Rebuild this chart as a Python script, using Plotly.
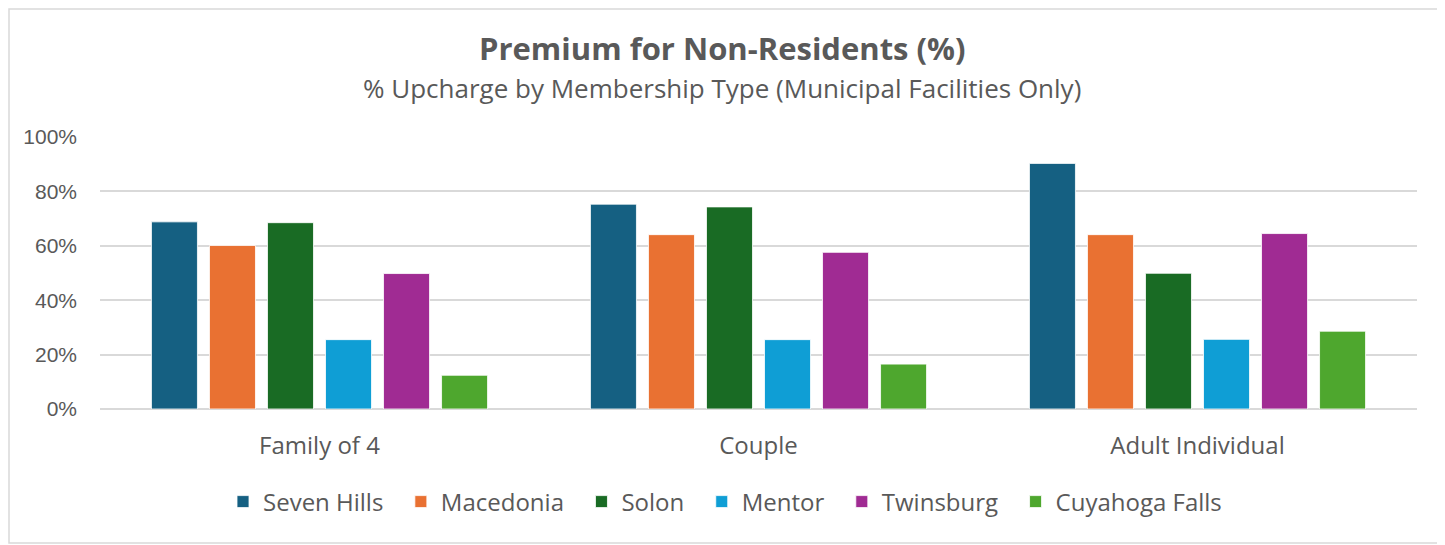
import plotly.graph_objects as go

categories = ["Family of 4", "Couple", "Adult Individual"]
series_names = ["Seven Hills", "Macedonia", "Solon", "Mentor", "Twinsburg", "Cuyahoga Falls"]
seven_hills = [0.688, 0.753, 0.903]
macedonia = [0.601, 0.641, 0.641]
solon = [0.685, 0.743, 0.499]
mentor = [0.255, 0.255, 0.256]
twinsburg = [0.498, 0.576, 0.645]
cuyahoga_falls = [0.124, 0.165, 0.286]
series_values = [seven_hills, macedonia, solon, mentor, twinsburg, cuyahoga_falls]
colors = ["#156082", "#E97132", "#196B24", "#0F9ED5", "#A02B93", "#4EA72E"]
y_ticks = [0, 0.2, 0.4, 0.6, 0.8, 1.0]
y_tick_labels = ["0%", "20%", "40%", "60%", "80%", "100%"]

FONT = "Open Sans"
GRAY = "#595959"

# plot area in screen pixels (page has an 8px body margin)
PX0, PX1, PY0, PY1 = 100, 1417, 137, 409
PW, PH = PX1 - PX0, PY1 - PY0


def px(sx):
    return (sx - PX0) / PW


def py(sy):
    return (PY1 - sy) / PH


fig = go.Figure()
for name, vals, col in zip(series_names, series_values, colors):
    fig.add_trace(go.Bar(
        x=categories, y=vals, name=name + "\u00a0\u00a0",
        marker=dict(color=col, line=dict(color="white", width=0.8)),
    ))

fig.update_layout(
    width=1445, height=545,
    margin=dict(l=PX0 - 8, r=1445 + 8 - PX1, t=PY0 - 8, b=545 + 8 - PY1),
    paper_bgcolor="white", plot_bgcolor="white",
    barmode="group", bargap=0.207, bargroupgap=0.207,
    font=dict(family=FONT, color=GRAY),
    showlegend=True,
    legend=dict(orientation="h", x=px(223), xanchor="left", y=py(502), yanchor="middle",
                font=dict(size=24, color=GRAY, family=FONT), itemwidth=30,
                traceorder="normal"),
    xaxis=dict(showgrid=False, showline=False, zeroline=False, ticks="",
               tickfont=dict(size=24, color=GRAY, family=FONT), ticklabelstandoff=20),
    yaxis=dict(range=[0, 1.0], tickvals=y_ticks, ticktext=y_tick_labels,
               showgrid=True, gridcolor="#D9D9D9", gridwidth=1.5,
               zeroline=True, zerolinecolor="#D9D9D9", zerolinewidth=1.5,
               showline=False, ticks="",
               tickfont=dict(size=21, color=GRAY, family="Liberation Sans"), ticklabelstandoff=22),
    annotations=[
        dict(text="<b>Premium for Non-Residents (%)</b>", xref="paper", yref="paper",
             x=px(722), y=py(48), xanchor="center", yanchor="middle", showarrow=False,
             font=dict(size=31, color=GRAY, family=FONT)),
        dict(text="% Upcharge by Membership Type (Municipal Facilities Only)", xref="paper", yref="paper",
             x=px(722), y=py(88), xanchor="center", yanchor="middle", showarrow=False,
             font=dict(size=26, color=GRAY, family=FONT)),
    ],
    shapes=[dict(type="rect", xref="paper", yref="paper",
                 x0=px(9), x1=px(1443), y0=py(543), y1=py(9),
                 line=dict(color="#D9D9D9", width=1.5), fillcolor="rgba(0,0,0,0)", layer="below")],
)

fig.write_html("out.html")
